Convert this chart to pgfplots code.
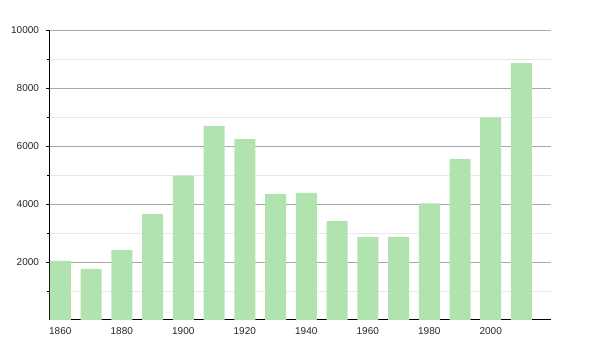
\documentclass[border=0pt]{standalone}
\usepackage{pgfplots}
\pgfplotsset{compat=1.18}
\usepackage{fontspec}
\setmainfont{Liberation Sans}
\definecolor{bargreen}{RGB}{176,227,174}
\definecolor{majgrid}{RGB}{168,168,168}
\definecolor{mingrid}{RGB}{232,232,232}
\begin{document}
\begin{tikzpicture}[x=1pt,y=1pt]
\useasboundingbox (0,0) rectangle (600,350);
\begin{axis}[
  at={(50pt,30pt)}, anchor=south west,
  scale only axis, width=500.7pt, height=290pt,
  xmin=1856.65, xmax=2019.5, ymin=0, ymax=10000,
  axis x line*=bottom, axis y line*=left,
  axis line style={black, line width=1pt},
  ybar, bar width=21pt,
  xtick={1860,1880,1900,1920,1940,1960,1980,2000},
  ytick={2000,4000,6000,8000,10000},
  minor ytick={1000,3000,5000,7000,9000},
  scaled y ticks=false,
  xtick style={draw=none},
  ytick style={black, line width=0.8pt},
  minor y tick style={black, line width=0.8pt},
  tick align=outside,
  major tick length=4pt, minor tick length=3pt,
  ymajorgrids, yminorgrids,
  major grid style={majgrid, line width=0.9pt},
  minor grid style={mingrid, line width=0.9pt},
  /pgf/number format/1000 sep={},
  /pgf/number format/assume math mode=true,
  tick label style={font=\fontsize{10}{12}\selectfont, text=black!85},
  xticklabel style={yshift=0pt},
  yticklabel style={xshift=-3.5pt},
]
\addplot[fill=bargreen, draw=none] coordinates {
 (1860,2040) (1870,1760) (1880,2410) (1890,3660) (1900,4980)
 (1910,6690) (1920,6240) (1930,4340) (1940,4380) (1950,3410)
 (1960,2860) (1970,2870) (1980,4020) (1990,5550) (2000,6990)
 (2010,8860)
};
\end{axis}
\end{tikzpicture}
\end{document}
